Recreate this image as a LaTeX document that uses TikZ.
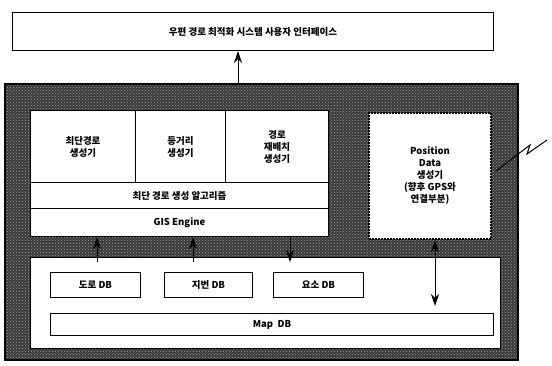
\documentclass[tikz,border=0pt]{standalone}
\usepackage{fontspec}
\setmainfont{Noto Sans CJK KR}
\usetikzlibrary{arrows.meta,patterns}
\begin{document}
\begin{tikzpicture}[x=1pt,y=-1pt,
  lbl/.style={font=\fontsize{9.5}{12}\selectfont\bfseries, align=center},
  wbox/.style={draw=black, line width=1pt, fill=white},
  arr/.style={-{Stealth[length=12pt,width=8pt]}, line width=1pt},
  darr/.style={{Stealth[length=12pt,width=8pt]}-{Stealth[length=12pt,width=8pt]}, line width=1pt}]
\useasboundingbox (0,0) rectangle (552,365);
% top interface box
\node[wbox, minimum width=481pt, minimum height=38pt, anchor=north west, lbl] (ui) at (12,12) {우편 경로 최적화 시스템 사용자 인터페이스};
% textured frame
\path[fill=black!78] (5,84) rectangle (518,360);
\path[pattern=crosshatch dots, pattern color=black!35] (5,84) rectangle (518,360);
\draw[line width=1.4pt] (5,84) rectangle (518,360);
\coordinate (frametop) at (238,84);
\draw[arr] (frametop) -- (ui.south -| frametop);
% left block
\node[wbox, minimum width=105pt, minimum height=72pt, anchor=north west, lbl] (sp) at (30,110) {최단경로\\생성기};
\node[wbox, minimum width=90pt, minimum height=72pt, anchor=north west, lbl] (eq) at (135,110) {등거리\\생성기};
\node[wbox, minimum width=103pt, minimum height=72pt, anchor=north west, lbl] (re) at (225,110) {경로\\재배치\\생성기};
\node[wbox, minimum width=298pt, minimum height=26pt, anchor=north west, lbl] (alg) at (30,182) {최단 경로 생성 알고리즘};
\node[wbox, minimum width=298pt, minimum height=28pt, anchor=north west, lbl] (gis) at (30,208) {GIS Engine};
% position data box
\node[draw=black, line width=2pt, densely dotted, fill=white, minimum width=122pt, minimum height=126pt, anchor=north west, lbl] (pos) at (368,112) {Position\\Data\\생성기\\(향후 GPS와\\연결부분)};
% lower db area
\path[wbox] (30,257) rectangle (500,348);
\node[wbox, minimum width=90pt, minimum height=25pt, anchor=north west, lbl] (road) at (50,272) {도로 DB};
\node[wbox, minimum width=88pt, minimum height=25pt, anchor=north west, lbl] (lot) at (164,272) {지번 DB};
\node[wbox, minimum width=90pt, minimum height=25pt, anchor=north west, lbl] (elem) at (273,272) {요소 DB};
\node[wbox, minimum width=443pt, minimum height=22pt, anchor=north west, lbl] (map) at (50,313) {Map\ \ DB};
% arrows
\coordinate (a1) at (97,262);
\coordinate (a2) at (193,262);
\coordinate (a3) at (290,262);
\draw[arr] (a1) -- (a1 |- gis.south);
\draw[arr] (a2) -- (a2 |- gis.south);
\draw[arr] (a3 |- gis.south) -- (a3);
\coordinate (a4) at (435,306);
\draw[darr] (a4 |- pos.south) -- (a4);
% wireless symbol
\coordinate (w1) at (496,171);
\coordinate (w2) at (530,145);
\coordinate (w3) at (527,154);
\coordinate (w4) at (547,140);
\draw[line width=1pt] (w1) -- (w2) -- (w3) -- (w4);
\end{tikzpicture}
\end{document}
